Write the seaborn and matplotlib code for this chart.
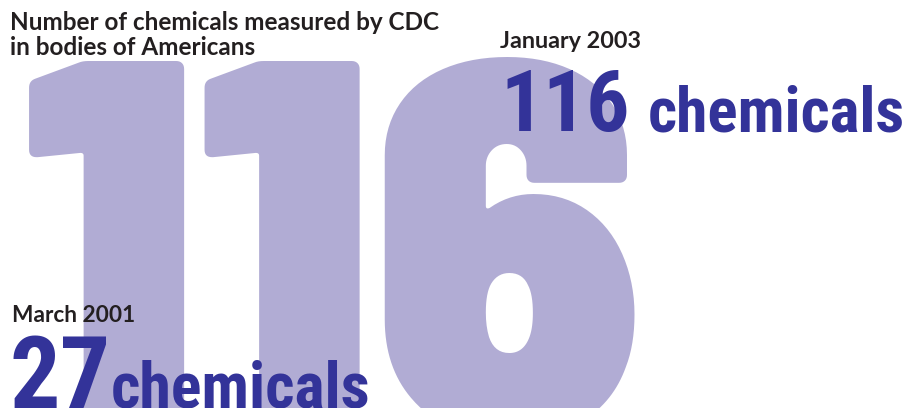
import matplotlib
matplotlib.use("Agg")
import matplotlib.pyplot as plt
import seaborn as sns

# data
dates = ["March 2001", "January 2003"]
counts = [27, 116]
unit = "chemicals"
title_lines = ["Number of chemicals measured by CDC", "in bodies of Americans"]

sns.set_theme(style="white")
plt.rcParams["font.family"] = ["Lato", "DejaVu Sans"]
cond = ["Roboto Condensed", "Barlow Condensed", "Liberation Sans"]
heavy = ["Barlow Semi Condensed", "Roboto Condensed", "Liberation Sans"]

light = "#b1acd4"
dark = "#333399"
ink = "#231f20"

fig = plt.figure(figsize=(9.12, 4.08), dpi=100)
ax = fig.add_axes([0, 0, 1, 1])
ax.set_xlim(0, 912)
ax.set_ylim(408, 0)
ax.axis("off")

# giant background number
ax.text(21, 435, str(counts[1]), fontsize=385, fontweight=900, family=heavy,
        color=light, ha="left", va="baseline", zorder=1)

ax.text(10, 30, title_lines[0], fontsize=17.5, fontweight="bold", color=ink,
        ha="left", va="baseline", zorder=3)
ax.text(10, 55, title_lines[1], fontsize=17.5, fontweight="bold", color=ink,
        ha="left", va="baseline", zorder=3)

# January 2003 block
ax.text(500, 48, dates[1], fontsize=16.8, fontweight="bold", color=ink,
        ha="left", va="baseline", zorder=3)
ax.text(500, 131, str(counts[1]), fontsize=61.5, fontweight="bold", family=cond,
        color=dark, ha="left", va="baseline", zorder=3)
ax.text(648, 131, unit, fontsize=45.5, fontweight="bold", family=cond,
        color=dark, ha="left", va="baseline", zorder=3)

# March 2001 block
ax.text(12, 322, dates[0], fontsize=16.3, fontweight="bold", color=ink,
        ha="left", va="baseline", zorder=3)
ax.text(10, 408, str(counts[0]), fontsize=72, fontweight="bold", family=cond,
        color=dark, ha="left", va="baseline", zorder=3)
ax.text(111, 408, unit, fontsize=46, fontweight="bold", family=cond,
        color=dark, ha="left", va="baseline", zorder=3)

fig.savefig("out.png", dpi=100)
